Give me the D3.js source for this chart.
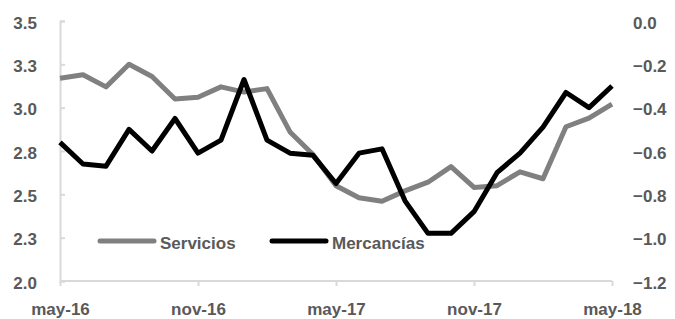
<!DOCTYPE html>
<html>
<head>
<meta charset="utf-8">
<script src="https://cdn.jsdelivr.net/npm/d3@7"></script>
<style>
  body { margin: 0; background: #fff; }
  svg { display: block; }
  text { font-family: "Liberation Sans", Arial, sans-serif; font-weight: bold; font-size: 17px; fill: #595959; }
</style>
</head>
<body>
<script>
// monthly data, may-16 .. may-18
const months = ["may-16","jun-16","jul-16","ago-16","sep-16","oct-16","nov-16","dic-16","ene-17","feb-17","mar-17","abr-17",
                "may-17","jun-17","jul-17","ago-17","sep-17","oct-17","nov-17","dic-17","ene-18","feb-18","mar-18","abr-18","may-18"]
const servicios = [3.17,3.19,3.12,3.25,3.18,3.05,3.06,3.12,3.09,3.11,2.86,2.73,
                   2.55,2.48,2.46,2.52,2.57,2.66,2.54,2.55,2.63,2.59,2.89,2.94,3.02]
const mercancias = [-0.56,-0.66,-0.67,-0.50,-0.60,-0.45,-0.61,-0.55,-0.27,-0.55,-0.61,-0.62,
                    -0.75,-0.61,-0.59,-0.83,-0.98,-0.98,-0.88,-0.70,-0.61,-0.49,-0.33,-0.40,-0.30]
const xTickLabels = ["may-16","nov-16","may-17","nov-17","may-18"]
const leftTicks = [2.0, 2.25, 2.5, 2.75, 3.0, 3.25, 3.5]
const rightTicks = [-1.2, -1.0, -0.8, -0.6, -0.4, -0.2, 0.0]
const seriesNames = ["Servicios", "Mercancías"]

const w = 675
const h = 319
const pl = 60, pr = 612, pt = 21, pb = 281

const svg = d3.select("body").append("svg")
              .attr("width", w)
              .attr("height", h)

const x = d3.scalePoint().domain(months).range([pl, pr])
const yL = d3.scaleLinear().domain([2.0, 3.5]).range([pb, pt])
const yR = d3.scaleLinear().domain([-1.2, 0.0]).range([pb, pt])

// left axis
const axL = svg.append("g").attr("transform", "translate(" + pl + ",0)")
  .call(d3.axisLeft(yL).tickValues(leftTicks).tickSize(-5).tickPadding(23).tickFormat(d3.format(".1f")))
axL.select(".domain").attr("stroke", "#d9d9d9").attr("stroke-width", 2)
axL.selectAll(".tick line").attr("stroke", "#d9d9d9").attr("stroke-width", 2)
axL.selectAll("text").attr("font-size", null).attr("font-family", null).attr("dy", "0.42em")

// right axis (labels only)
const axR = svg.append("g").attr("transform", "translate(" + pr + ",0)")
  .call(d3.axisRight(yR).tickValues(rightTicks).tickSize(0).tickPadding(21).tickFormat(d3.format(".1f")))
axR.select(".domain").remove()
axR.selectAll("text").attr("font-size", null).attr("font-family", null).attr("dy", "0.42em")

// bottom axis
const axB = svg.append("g").attr("transform", "translate(0," + pb + ")")
  .call(d3.axisBottom(x).tickValues(xTickLabels).tickSize(5).tickPadding(17))
axB.select(".domain").attr("stroke", "#d9d9d9").attr("stroke-width", 2).attr("d", "M" + pl + ",0H" + pr)
axB.selectAll(".tick line").attr("stroke", "#d9d9d9").attr("stroke-width", 2)
axB.selectAll("text").attr("font-size", null).attr("font-family", null).attr("dy", "0.71em")

// lines
const lineL = d3.line().x((d, i) => x(months[i])).y(d => yL(d))
const lineR = d3.line().x((d, i) => x(months[i])).y(d => yR(d))

svg.append("path").datum(servicios)
   .attr("d", lineL).attr("fill", "none")
   .attr("stroke", "#808080").attr("stroke-width", 5).attr("stroke-linejoin", "round")
svg.append("path").datum(mercancias)
   .attr("d", lineR).attr("fill", "none")
   .attr("stroke", "#000").attr("stroke-width", 5).attr("stroke-linejoin", "round")

// legend
const legend = svg.append("g").attr("transform", "translate(100,241)")
const legItems = [{name: seriesNames[0], color: "#808080", x: 0}, {name: seriesNames[1], color: "#000", x: 172}]
legItems.forEach(it => {
  legend.append("line").attr("x1", it.x).attr("x2", it.x + 54).attr("y1", 0).attr("y2", 0)
        .attr("stroke", it.color).attr("stroke-width", 5).attr("stroke-linecap", "round")
  legend.append("text").attr("x", it.x + 60).attr("y", 8).text(it.name)
})
</script>
</body>
</html>
